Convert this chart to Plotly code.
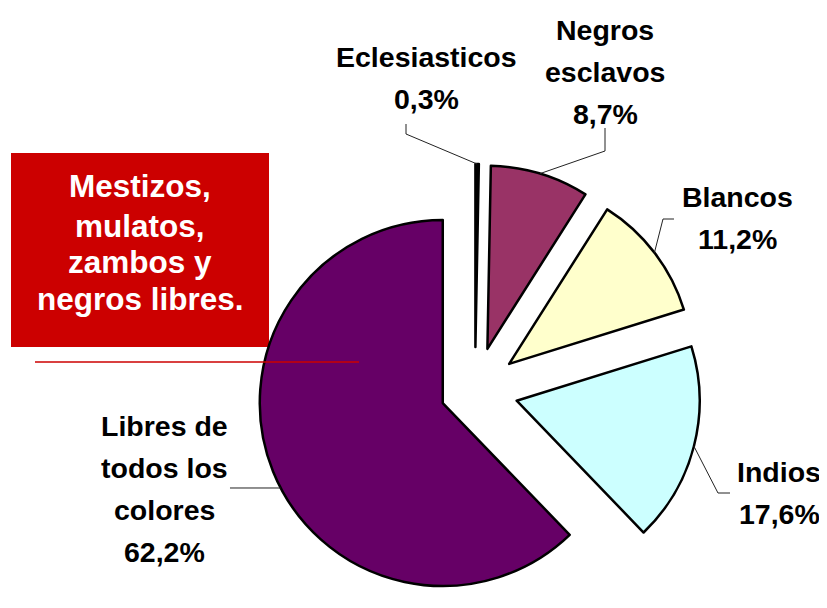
import math
import plotly.graph_objects as go

# ---- data ----
labels = ["Eclesiasticos", "Negros esclavos", "Blancos", "Indios", "Libres de todos los colores"]
label_lines = [["Eclesiasticos"], ["Negros", "esclavos"], ["Blancos"], ["Indios"],
               ["Libres de", "todos los", "colores"]]
values = [0.3, 8.7, 11.2, 17.6, 62.2]
colors = ["#000000", "#993366", "#FFFFCC", "#CCFFFF", "#660066"]
pulls = [0.235, 0.235, 0.235, 0.235, 0.19]
box_lines = ["Mestizos,", "mulatos,", "zambos y", "negros libres."]

W, H = 827, 608
OFF = 8  # page body margin offset of the figure in the browser window
dom_x = [0.2797, 0.8497]
dom_y = [0.0, 0.7434]


def px(x):
    return (x - OFF) / W


def py(y):
    return 1 - (y - OFF) / H


# replicate plotly's pie geometry (window pixel frame) for leader line end points
box_w = W * (dom_x[1] - dom_x[0])
box_h = H * (dom_y[1] - dom_y[0])
R = min(box_w, box_h) / 2 / (1 + max(pulls))
CX = W * (dom_x[0] + dom_x[1]) / 2 + OFF
CY = H * (1 - dom_y[0]) - box_h / 2 + OFF
total = sum(values)
bounds = []
acc = 0.0
for v in values:
    a0 = acc / total * 360
    acc += v
    bounds.append((a0, acc / total * 360))


def apex(i):
    a0, a1 = bounds[i]
    mid = math.radians((a0 + a1) / 2)
    return CX + pulls[i] * R * math.sin(mid), CY - pulls[i] * R * math.cos(mid)


def arc_point(i, ang):
    ox, oy = apex(i)
    t = math.radians(ang)
    return ox + R * math.sin(t), oy - R * math.cos(t)


fig = go.Figure(go.Pie(
    labels=labels, values=values, sort=False, direction="clockwise", rotation=0,
    pull=pulls, textinfo="none", hoverinfo="label+percent", showlegend=False,
    marker=dict(colors=colors, line=dict(color="black", width=2.5)),
    domain=dict(x=dom_x, y=dom_y),
))

font_lbl = dict(family="Liberation Sans, Arial, sans-serif", size=28.5, color="black")
label_pos = [(426, 57), (605, 30), (737, 197), (779, 472), (164, 426)]
pitch = 42
annotations = []
for i, lines in enumerate(label_lines):
    pct = f"{values[i]:.1f}".replace(".", ",") + "%"
    x0, y0 = label_pos[i]
    for k, t in enumerate(lines + [pct]):
        annotations.append(dict(x=px(x0), y=py(y0 + k * pitch), xref="paper", yref="paper",
                                text=f"<b>{t}</b>", showarrow=False, xanchor="center",
                                yanchor="middle", font=font_lbl))

font_box = dict(family="Liberation Sans, Arial, sans-serif", size=31.5, color="white")
box_y = [186, 226, 262, 299]
for t, yy in zip(box_lines, box_y):
    annotations.append(dict(x=px(140), y=py(yy), xref="paper", yref="paper",
                            text=f"<b>{t}</b>", showarrow=False, xanchor="center",
                            yanchor="middle", font=font_box))

# leader lines
starts = [[(406, 124), (406, 134)], [(605, 128), (605, 151)], [(674, 219), (663, 219)],
          [(730, 493), (718, 493)], [(230, 488)]]
shapes = []
for i, pts in enumerate(starts):
    a0, a1 = bounds[i]
    if i == len(values) - 1:
        ox, oy = apex(i)
        c = (oy - pts[0][1]) / R
        ang = 360 - math.degrees(math.acos(max(-1, min(1, c))))
        end = arc_point(i, ang)
    else:
        end = arc_point(i, (a0 + a1) / 2)
    allp = pts + [end]
    path = "M " + " L ".join(f"{px(x):.5f},{py(y):.5f}" for x, y in allp)
    shapes.append(dict(type="path", path=path, xref="paper", yref="paper",
                       line=dict(color="#222222", width=1)))

shapes.append(dict(type="rect", xref="paper", yref="paper", x0=px(11), x1=px(269),
                   y0=py(347), y1=py(153), fillcolor="#CC0000", line=dict(width=0),
                   layer="below"))
shapes.append(dict(type="line", xref="paper", yref="paper", x0=px(35), x1=px(359),
                   y0=py(362), y1=py(362), line=dict(color="#CC0000", width=1.5)))

fig.update_layout(width=W, height=H, margin=dict(l=0, r=0, t=0, b=0),
                  paper_bgcolor="white", plot_bgcolor="white", showlegend=False,
                  annotations=annotations, shapes=shapes)
fig.write_html("out.html")
